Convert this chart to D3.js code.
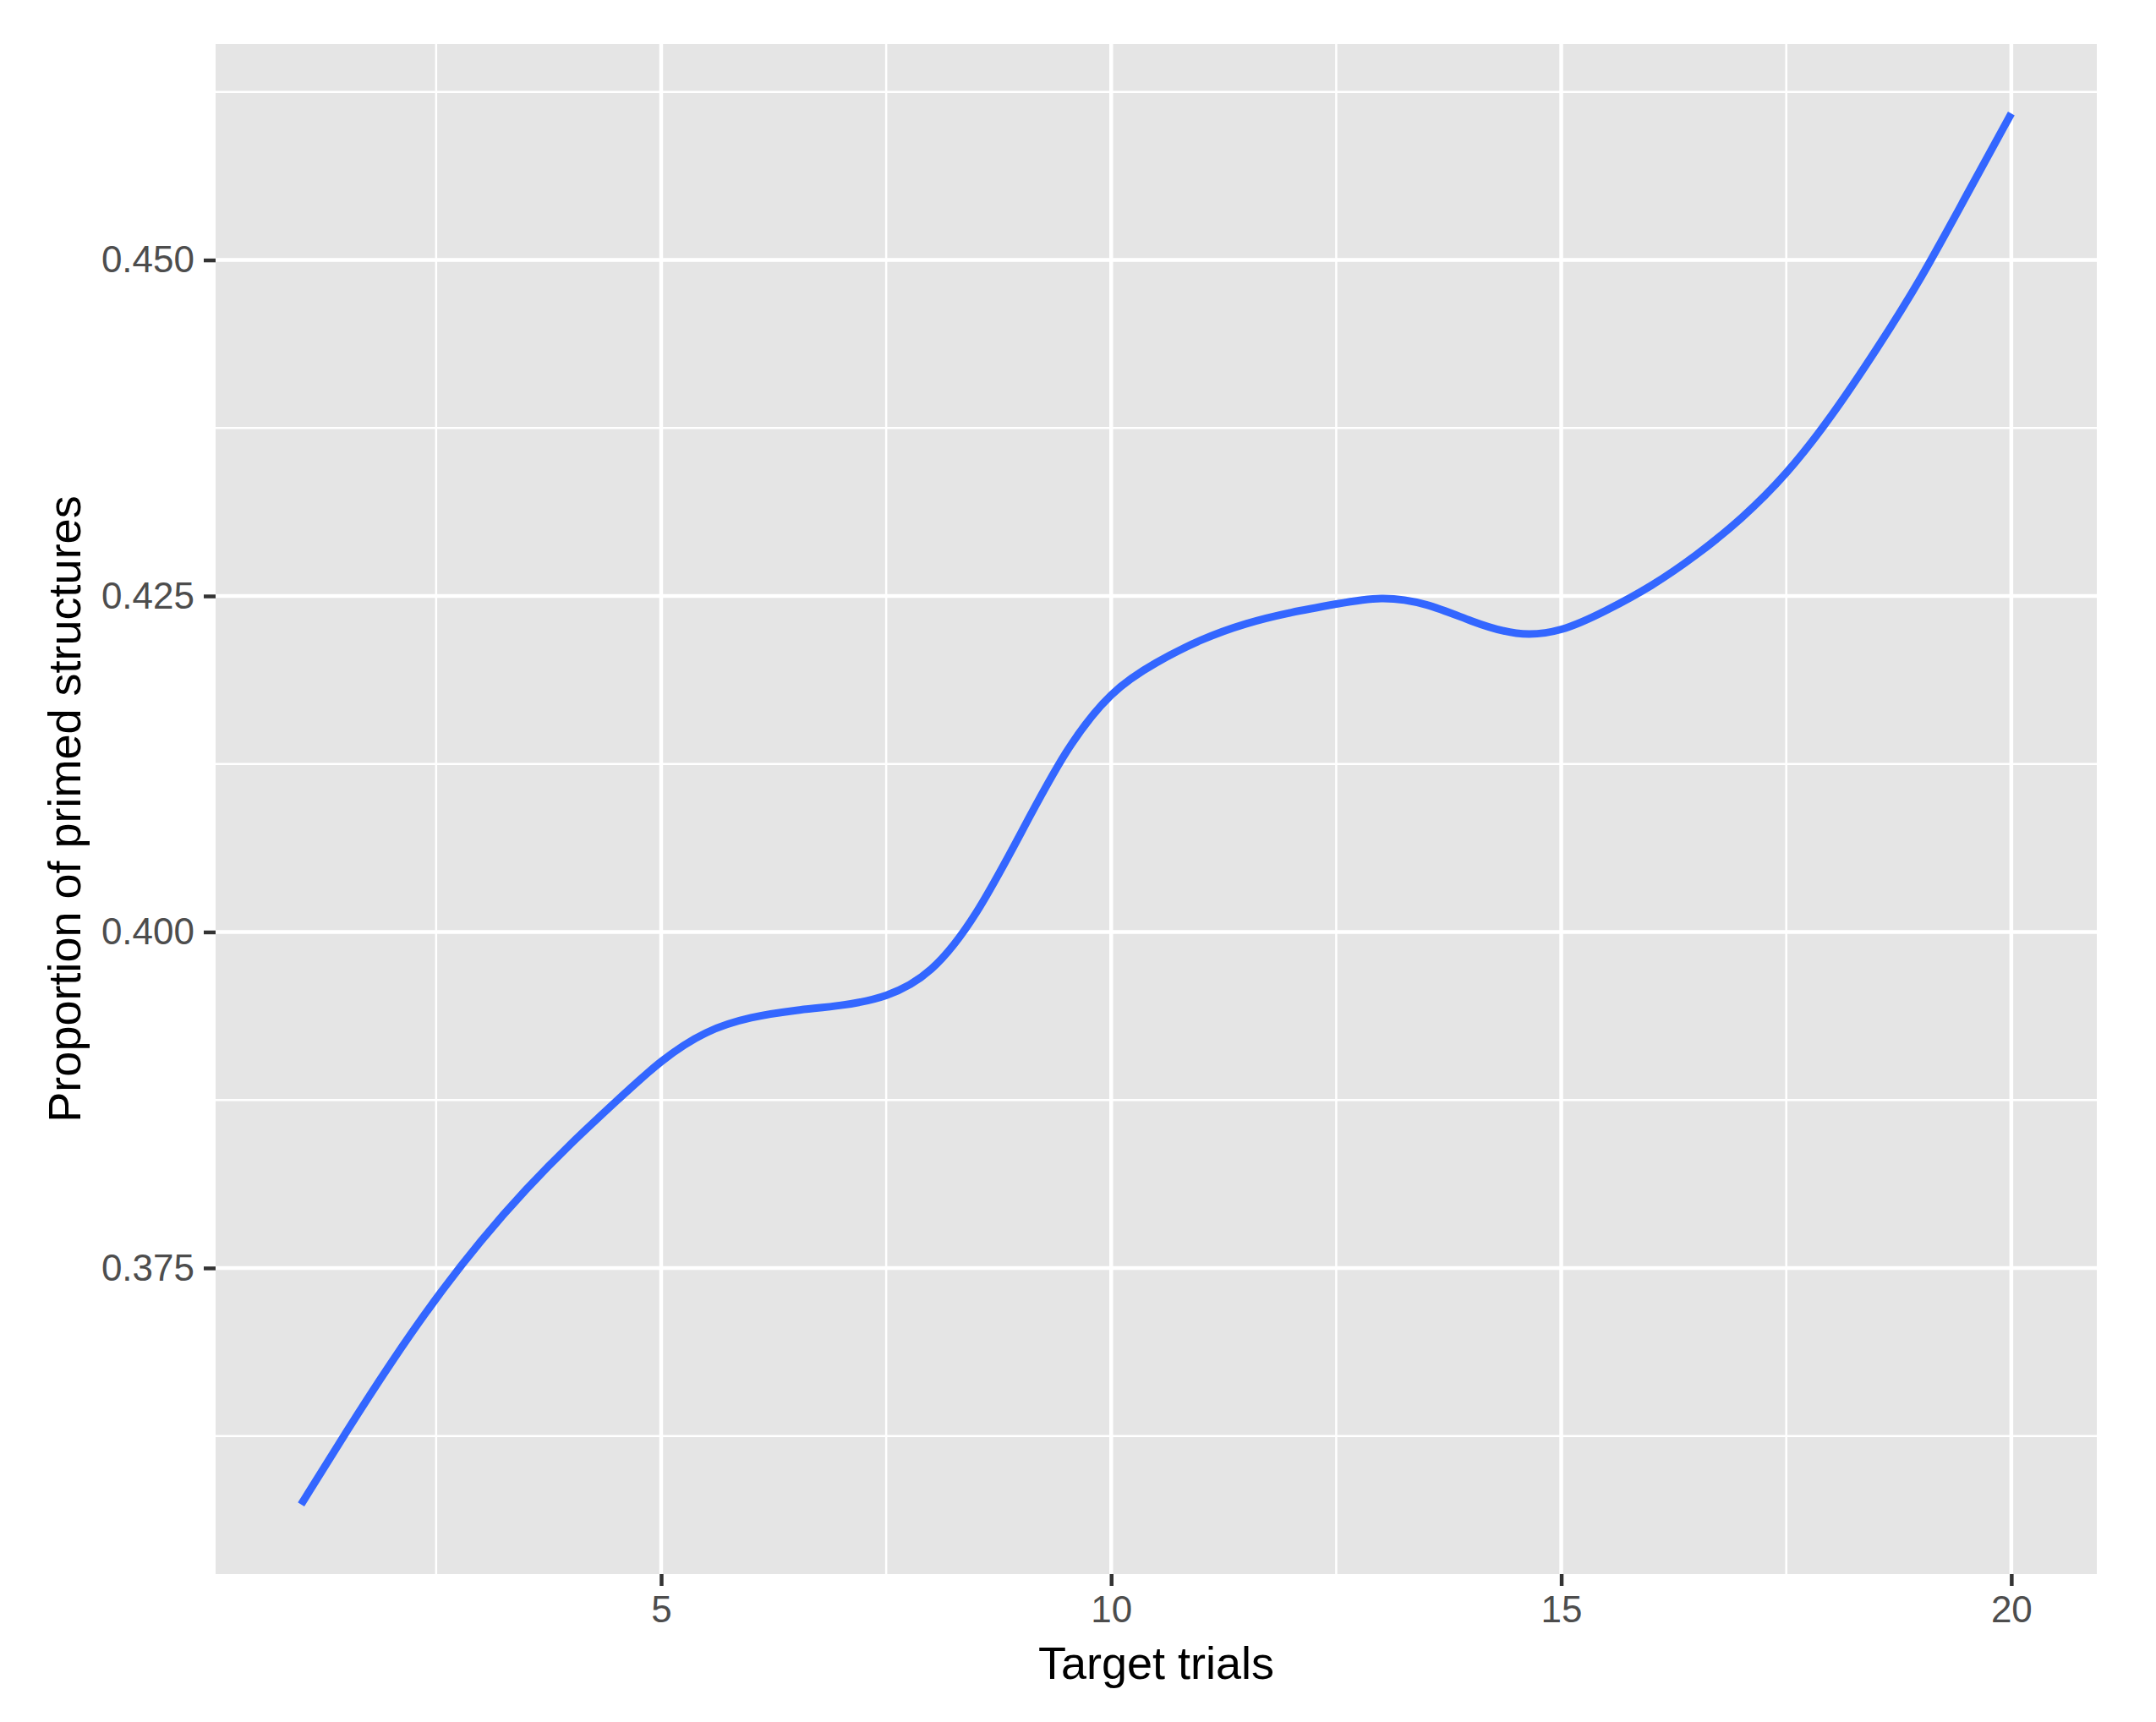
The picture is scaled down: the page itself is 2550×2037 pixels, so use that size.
<!DOCTYPE html>
<html>
<head>
<meta charset="utf-8">
<script src="https://cdn.jsdelivr.net/npm/d3@7"></script>
<style>
  body { margin: 0; background: #fff; }
  text { font-family: "Liberation Sans", Arial, sans-serif; }
</style>
</head>
<body>
<div id="chart"></div>
<script>
// smoothed proportion of primed structures by target trial
const trials = [1, 1.5, 2, 2.5, 3, 3.5, 4, 4.5, 5, 5.5, 6, 6.5, 7, 7.5, 8, 8.5, 9, 9.5, 10,
  10.5, 11, 11.5, 12, 12.5, 13, 13.5, 14, 14.5, 15, 15.5, 16, 16.5, 17, 17.5, 18, 18.5, 19, 19.5, 20];
const proportion = [0.3574, 0.3628, 0.3680, 0.3728, 0.3771, 0.3809, 0.3843, 0.3874, 0.3905, 0.3927,
  0.3937, 0.3942, 0.3945, 0.3951, 0.3968, 0.4011, 0.4074, 0.4137, 0.4180,
  0.4201, 0.4218, 0.4230, 0.4238, 0.4244, 0.4250, 0.4245, 0.4231, 0.4220, 0.4223,
  0.4239, 0.4257, 0.4280, 0.4307, 0.4340, 0.4383, 0.4433, 0.4486, 0.4548, 0.4609];

const xBreaks = [5, 10, 15, 20];
const xMinor = [2.5, 7.5, 12.5, 17.5];
const yBreaks = [0.375, 0.400, 0.425, 0.450];
const yMinor = [0.3625, 0.3875, 0.4125, 0.4375, 0.4625];

const xTitle = "Target trials";
const yTitle = "Proportion of primed structures";

const width = 2550, height = 2037;
const margin = {top: 52, right: 70, bottom: 175, left: 255};
const pw = width - margin.left - margin.right;
const ph = height - margin.top - margin.bottom;

const data = trials.map((t, i) => ({x: t, y: proportion[i]}));

// ggplot style 5% expansion
const xExt = d3.extent(trials), yExt = d3.extent(proportion);
const xPad = (xExt[1] - xExt[0]) * 0.05, yPad = (yExt[1] - yExt[0]) * 0.05;

const x = d3.scaleLinear().domain([xExt[0] - xPad, xExt[1] + xPad]).range([0, pw]);
const y = d3.scaleLinear().domain([yExt[0] - yPad, yExt[1] + yPad]).range([ph, 0]);

const svg = d3.select("#chart").append("svg")
    .attr("width", width)
    .attr("height", height);

const g = svg.append("g").attr("transform", `translate(${margin.left},${margin.top})`);

g.append("rect")
    .attr("width", pw)
    .attr("height", ph)
    .attr("fill", "#E5E5E5");

// minor grid
g.append("g").selectAll("line.vminor")
    .data(xMinor).join("line")
    .attr("x1", d => x(d)).attr("x2", d => x(d))
    .attr("y1", 0).attr("y2", ph)
    .attr("stroke", "#fff").attr("stroke-width", 2.5);
g.append("g").selectAll("line.hminor")
    .data(yMinor).join("line")
    .attr("y1", d => y(d)).attr("y2", d => y(d))
    .attr("x1", 0).attr("x2", pw)
    .attr("stroke", "#fff").attr("stroke-width", 2.5);

// major grid
g.append("g").selectAll("line.vmajor")
    .data(xBreaks).join("line")
    .attr("x1", d => x(d)).attr("x2", d => x(d))
    .attr("y1", 0).attr("y2", ph)
    .attr("stroke", "#fff").attr("stroke-width", 4.5);
g.append("g").selectAll("line.hmajor")
    .data(yBreaks).join("line")
    .attr("y1", d => y(d)).attr("y2", d => y(d))
    .attr("x1", 0).attr("x2", pw)
    .attr("stroke", "#fff").attr("stroke-width", 4.5);

// smooth line
const line = d3.line()
    .x(d => x(d.x))
    .y(d => y(d.y))
    .curve(d3.curveBasis);

g.append("path")
    .datum(data)
    .attr("d", line)
    .attr("fill", "none")
    .attr("stroke", "#3366FF")
    .attr("stroke-width", 9)
    .attr("stroke-linecap", "butt");

// axes
const xAxis = g.append("g")
    .attr("transform", `translate(0,${ph})`)
    .call(d3.axisBottom(x).tickValues(xBreaks).tickSize(14).tickPadding(12).tickFormat(d3.format("d")));
const yAxis = g.append("g")
    .call(d3.axisLeft(y).tickValues(yBreaks).tickSize(14).tickPadding(11).tickFormat(d3.format(".3f")));

[xAxis, yAxis].forEach(a => {
    a.select(".domain").remove();
    a.selectAll(".tick line").attr("stroke", "#333333").attr("stroke-width", 4.5);
    a.selectAll(".tick text")
        .attr("fill", "#4D4D4D")
        .style("font-size", "44px")
        .style("font-family", "'Liberation Sans', Arial, sans-serif");
});

svg.append("text")
    .attr("x", margin.left + pw / 2)
    .attr("y", 1986)
    .attr("text-anchor", "middle")
    .attr("fill", "#000")
    .style("font-size", "54px")
    .text(xTitle);

svg.append("text")
    .attr("transform", `translate(95,${margin.top + ph / 2}) rotate(-90)`)
    .attr("text-anchor", "middle")
    .attr("fill", "#000")
    .style("font-size", "54px")
    .text(yTitle);
</script>
</body>
</html>
